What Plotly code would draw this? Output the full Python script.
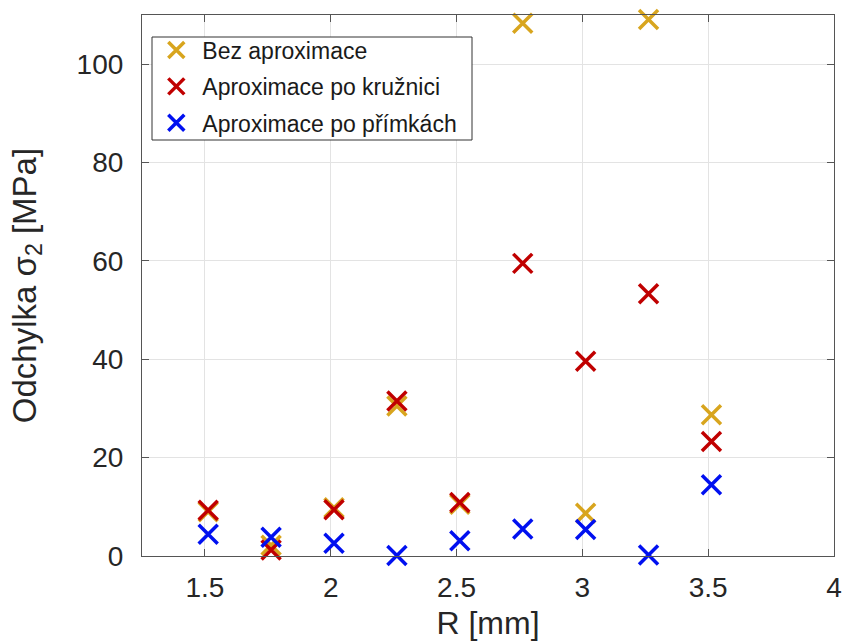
import plotly.graph_objects as go

R = [1.513, 1.763, 2.013, 2.263, 2.513, 2.763, 3.013, 3.263, 3.513]
bez = [9.0, 2.2, 9.8, 30.5, 10.5, 108.3, 8.7, 109.1, 28.7]
kruznice = [9.3, 1.2, 9.4, 31.5, 10.9, 59.5, 39.6, 53.3, 23.3]
primky = [4.4, 3.8, 2.6, 0.1, 3.1, 5.5, 5.4, 0.2, 14.5]

x_ticks = [1.5, 2, 2.5, 3, 3.5, 4]
x_ticktext = ["1.5", "2", "2.5", "3", "3.5", "4"]
y_ticks = [0, 20, 40, 60, 80, 100]

names = ["Bez aproximace", "Aproximace po kružnici", "Aproximace po přímkách"]
colors = ["#D8A51E", "#C00000", "#0010F0"]
series = [bez, kruznice, primky]

FONT = "Liberation Sans, Arial, sans-serif"

fig = go.Figure()
for i, (n, c, y) in enumerate(zip(names, colors, series)):
    fig.add_trace(go.Scatter(
        x=R, y=y, mode="markers", name=n, legendgroup=f"g{i}",
        marker=dict(symbol="x-thin", size=19, line=dict(color=c, width=3.5), color=c),
        cliponaxis=False,
    ))

axis_common = dict(
    showline=True, linecolor="#555555", linewidth=1.2, mirror="ticks",
    ticks="inside", ticklen=7, tickcolor="#555555",
    showgrid=True, gridcolor="#E3E3E3", gridwidth=1, zeroline=False,
    tickfont=dict(family=FONT, size=28, color="#262626"),
    automargin=False,
)
fig.update_xaxes(range=[1.25, 4], tickvals=x_ticks, ticktext=x_ticktext,
                 ticklabelstandoff=6,
                 title=dict(text="R [mm]", standoff=9,
                            font=dict(family=FONT, size=32, color="#262626")),
                 **axis_common)
fig.update_yaxes(range=[0, 110], tickvals=y_ticks,
                 ticklabelstandoff=12,
                 title=dict(text="Odchylka σ<sub>2</sub> [MPa]", standoff=30,
                            font=dict(family=FONT, size=33, color="#262626")),
                 **axis_common)

# legend frame (white box with dark border) drawn behind a borderless legend
fig.add_shape(type="rect", xref="paper", yref="paper",
              x0=(152 - 142) / 692, x1=(472 - 142) / 692,
              y0=(556 - 140) / 541, y1=(556 - 37) / 541,
              fillcolor="white", line=dict(color="#333333", width=1), layer="above")

fig.update_layout(
    width=845, height=644,
    margin=dict(l=142, r=11, t=15, b=88, autoexpand=False),
    plot_bgcolor="white", paper_bgcolor="white",
    legend=dict(x=0.012, y=0.975, xanchor="left", yanchor="top",
                bgcolor="rgba(0,0,0,0)", borderwidth=0,
                font=dict(family=FONT, size=23, color="#1a1a1a"),
                itemwidth=42, tracegroupgap=3.5),
    showlegend=True,
)

fig.write_html("out.html", config={"displayModeBar": False},
               post_script="document.body.style.margin='0';")
